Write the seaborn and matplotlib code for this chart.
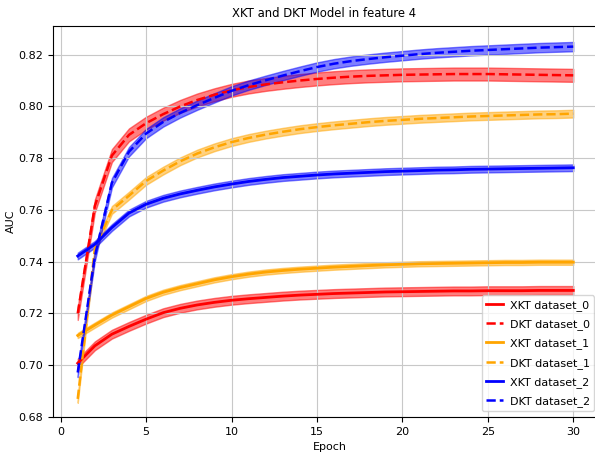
import pandas as pd
import matplotlib
matplotlib.use("Agg")
import matplotlib.pyplot as plt
from matplotlib import font_manager
import seaborn as sns

# Epochs and mean AUC curves
epochs = list(range(1, 31))

xkt_0 = [0.7008, 0.7075, 0.7120, 0.7150, 0.7178, 0.7203, 0.7220, 0.7233, 0.7243, 0.7251,
         0.7257, 0.7262, 0.7267, 0.7271, 0.7274, 0.7277, 0.7279, 0.7281, 0.7283, 0.7284,
         0.7285, 0.7286, 0.7287, 0.7287, 0.7288, 0.7288, 0.7288, 0.7289, 0.7289, 0.7289]
dkt_0 = [0.7200, 0.7615, 0.7810, 0.7890, 0.7935, 0.7970, 0.8000, 0.8025, 0.8045, 0.8062,
         0.8075, 0.8085, 0.8093, 0.8100, 0.8106, 0.8111, 0.8115, 0.8118, 0.8120, 0.8122,
         0.8123, 0.8124, 0.8125, 0.8125, 0.8125, 0.8124, 0.8123, 0.8122, 0.8121, 0.8120]
xkt_1 = [0.7115, 0.7155, 0.7194, 0.7226, 0.7258, 0.7282, 0.7300, 0.7315, 0.7330, 0.7342,
         0.7352, 0.7360, 0.7366, 0.7371, 0.7375, 0.7379, 0.7382, 0.7385, 0.7388, 0.7390,
         0.7392, 0.7393, 0.7394, 0.7395, 0.7396, 0.7397, 0.7397, 0.7398, 0.7398, 0.7398]
dkt_1 = [0.6870, 0.7450, 0.7600, 0.7655, 0.7712, 0.7752, 0.7788, 0.7818, 0.7842, 0.7862,
         0.7878, 0.7891, 0.7902, 0.7912, 0.7920, 0.7927, 0.7933, 0.7939, 0.7944, 0.7948,
         0.7952, 0.7955, 0.7958, 0.7961, 0.7963, 0.7965, 0.7967, 0.7969, 0.7970, 0.7972]
xkt_2 = [0.7422, 0.7467, 0.7532, 0.7588, 0.7622, 0.7645, 0.7662, 0.7676, 0.7689, 0.7700,
         0.7710, 0.7718, 0.7725, 0.7730, 0.7735, 0.7739, 0.7742, 0.7745, 0.7748, 0.7750,
         0.7752, 0.7754, 0.7755, 0.7757, 0.7758, 0.7759, 0.7760, 0.7761, 0.7762, 0.7763]
dkt_2 = [0.6972, 0.7420, 0.7705, 0.7825, 0.7895, 0.7940, 0.7975, 0.8005, 0.8033, 0.8060,
         0.8082, 0.8101, 0.8119, 0.8136, 0.8152, 0.8165, 0.8175, 0.8183, 0.8190, 0.8196,
         0.8202, 0.8207, 0.8211, 0.8215, 0.8218, 0.8221, 0.8224, 0.8227, 0.8229, 0.8231]

# Half width of the shaded band for each series
spreads = [0.0017, 0.0025, 0.0010, 0.0015, 0.0013, 0.0018]

labels = ["XKT dataset_0", "DKT dataset_0", "XKT dataset_1",
          "DKT dataset_1", "XKT dataset_2", "DKT dataset_2"]
series = [xkt_0, dkt_0, xkt_1, dkt_1, xkt_2, dkt_2]
colors = ["red", "red", "orange", "orange", "blue", "blue"]
styles = ["-", "--", "-", "--", "-", "--"]

# narrow font, the original text is much narrower than DejaVu
installed = {f.name for f in font_manager.fontManager.ttflist}
if "Liberation Sans Narrow" in installed:
    plt.rcParams["font.family"] = ["Liberation Sans Narrow", "DejaVu Sans"]
    base_size = 10
else:
    plt.rcParams["font.family"] = ["DejaVu Sans"]
    base_size = 8
plt.rcParams["font.size"] = base_size

fig = plt.figure(figsize=(5.95, 4.58), dpi=100)
# right part of the axes runs past the image edge, like in the original crop
ax = fig.add_axes([0.089, 0.0895, 0.931, 0.8545])

for label, vals, spread, color, ls in zip(labels, series, spreads, colors, styles):
    # lower and upper edge of the band, seaborn draws mean line + min/max band
    df = pd.DataFrame({
        "epoch": epochs + epochs,
        "auc": [v - spread for v in vals] + [v + spread for v in vals],
    })
    sns.lineplot(data=df, x="epoch", y="auc", color=color, linestyle=ls,
                 linewidth=2 if ls == "-" else 1.8,
                 errorbar=("pi", 100), err_kws={"alpha": 0.5},
                 label=label, ax=ax)

ax.set_xlim(-0.45, 31.97)
ax.set_ylim(0.68, 0.8312)
ax.set_xticks([0, 5, 10, 15, 20, 25, 30])
ax.set_yticks([0.68, 0.70, 0.72, 0.74, 0.76, 0.78, 0.80, 0.82])
ax.grid(True, color="#c8c8c8")
ax.set_title("XKT and DKT Model in feature 4", fontsize=base_size * 1.05, x=0.489)
ax.set_xlabel("Epoch", labelpad=4)
ax.set_ylabel("AUC", labelpad=2)
ax.legend(loc="lower right", bbox_to_anchor=(0.987, 0.0),
          labelspacing=0.75, handlelength=1.5, handletextpad=0.6)

fig.savefig("out.png", dpi=100)
